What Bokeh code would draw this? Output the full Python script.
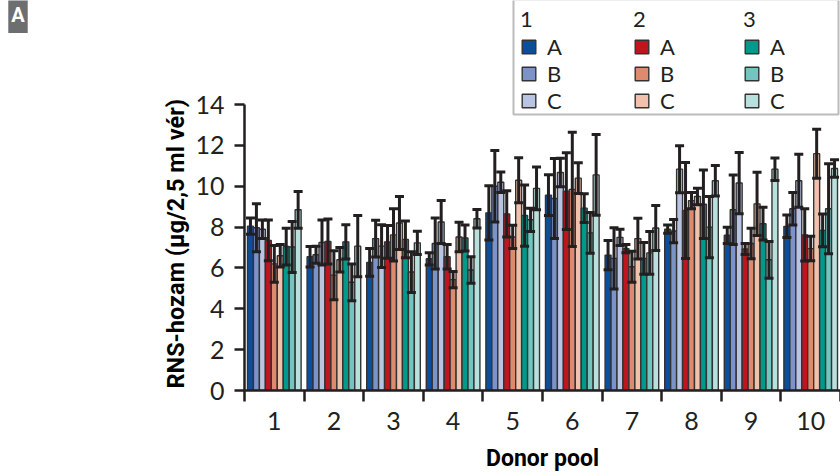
from bokeh.plotting import figure
from bokeh.layouts import row
from bokeh.models import (ColumnDataSource, Range1d, FixedTicker, Whisker, TeeHead,
                          Legend, LegendItem, BoxAnnotation, Label, Title)
from bokeh.transform import dodge
from bokeh.embed import file_html
from bokeh.resources import INLINE

# ---------------- data ----------------
pools = [1, 2, 3, 4, 5, 6, 7, 8, 9, 10]
y_ticks = [0, 2, 4, 6, 8, 10, 12, 14]

s1A = [8.05, 6.55, 6.27, 6.45, 8.70, 9.57, 6.63, 7.90, 7.60, 8.04]
s1A_err = [0.40, 0.50, 0.68, 0.30, 1.33, 1.00, 0.72, 0.20, 0.40, 0.55]
s1B = [7.97, 6.65, 7.44, 7.20, 10.00, 9.40, 6.47, 7.81, 8.85, 8.90]
s1B_err = [1.17, 0.42, 0.90, 1.25, 1.75, 1.96, 1.50, 0.57, 1.70, 0.80]
s1C = [7.90, 7.25, 7.07, 8.25, 10.20, 10.68, 7.50, 10.84, 10.16, 10.27]
s1C_err = [0.45, 1.10, 1.05, 1.05, 0.50, 0.70, 0.40, 1.15, 1.50, 1.30]

s2A = [7.35, 7.30, 7.28, 6.55, 8.65, 9.76, 6.95, 8.82, 6.93, 7.62]
s2A_err = [1.00, 1.10, 0.80, 0.60, 1.13, 1.88, 0.20, 2.35, 0.27, 1.28]
s2B = [6.20, 5.65, 7.62, 5.43, 7.52, 9.85, 6.06, 9.30, 7.20, 6.95]
s2B_err = [0.90, 1.20, 1.28, 0.40, 0.57, 2.80, 0.76, 0.40, 0.75, 0.60]
s2C = [6.60, 6.40, 8.20, 7.52, 10.30, 10.40, 7.44, 9.50, 9.14, 11.60]
s2C_err = [0.55, 0.60, 1.30, 0.72, 1.10, 0.75, 1.00, 0.40, 1.55, 1.20]

s3A = [7.05, 7.28, 7.40, 7.47, 8.57, 8.93, 6.47, 9.12, 8.17, 7.84]
s3A_err = [0.90, 0.84, 0.90, 0.64, 1.50, 0.70, 0.78, 1.68, 0.80, 0.80]
s3B = [7.03, 5.30, 5.80, 5.90, 8.36, 7.72, 6.74, 8.00, 6.40, 8.90]
s3B_err = [1.25, 0.90, 1.00, 0.65, 0.57, 1.00, 1.05, 1.50, 0.90, 2.20]
s3C = [8.85, 7.07, 7.23, 8.41, 9.90, 10.56, 7.96, 10.27, 10.84, 10.87]
s3C_err = [0.90, 1.50, 0.57, 0.45, 1.05, 1.98, 1.10, 0.75, 0.55, 0.43]

group_titles = ["1", "2", "3"]
sub_labels = ["A", "B", "C"]
y_title = "RNS-hozam (µg/2,5 ml vér)"
x_title = "Donor pool"
panel_tag = "A"

series = [
    ("1", "A", s1A, s1A_err, "#0b4f9c"),
    ("1", "B", s1B, s1B_err, "#7b93c9"),
    ("1", "C", s1C, s1C_err, "#b8c4e2"),
    ("2", "A", s2A, s2A_err, "#be151e"),
    ("2", "B", s2B, s2B_err, "#dd8a6f"),
    ("2", "C", s2C, s2C_err, "#f0c1ab"),
    ("3", "A", s3A, s3A_err, "#009a8c"),
    ("3", "B", s3B, s3B_err, "#73c5bf"),
    ("3", "C", s3C, s3C_err, "#b8e1dd"),
]

INK = "#231f20"
H = 474
TAG_W = 40
FRAME_L = 244          # frame left edge in page pixels
FRAME_B = 81           # space below the frame
Y_START, Y_AXIS_TOP, Y_END = 0, 14, 19.1   # frame reaches the top of the canvas

# ---------- small figure carrying the panel tag ----------
tag_fig = figure(width=TAG_W, height=H, x_range=Range1d(0, TAG_W), y_range=Range1d(0, H),
                 x_axis_type=None, y_axis_type=None, output_backend="svg",
                 toolbar_location=None, min_border=0)
tag_fig.outline_line_color = None
tag_fig.xgrid.visible = False
tag_fig.ygrid.visible = False
tag_fig.add_layout(Label(x=17.5, y=H - 17.5,
                         text=panel_tag, text_align="center", text_baseline="middle",
                         text_font="Roboto", text_font_style="bold", text_font_size="20px",
                         text_color="white", background_fill_color="#6d6e70",
                         padding=(3, 6)))

# ---------- main chart ----------
p = figure(width=840 - TAG_W, height=H, x_range=Range1d(0.5, 10.5),
           y_range=Range1d(Y_START, Y_END),
           output_backend="svg", toolbar_location=None,
           min_border_left=FRAME_L - TAG_W, min_border_right=0,
           min_border_top=0, min_border_bottom=FRAME_B)
p.outline_line_color = None
p.xgrid.visible = False
p.ygrid.visible = False

bar_w = 0.1
n = len(series)
renderers = {}
whiskers = []
for i, (g, s, vals, errs, col) in enumerate(series):
    off = (i - (n - 1) / 2) * bar_w
    src = ColumnDataSource(dict(
        pool=pools, val=vals,
        lo=[v - e for v, e in zip(vals, errs)],
        hi=[v + e for v, e in zip(vals, errs)],
    ))
    r = p.vbar(x=dodge("pool", off), top="val", bottom=Y_START, width=bar_w, source=src,
               fill_color=col, line_color="#333333", line_width=1.4)
    renderers[(g, s)] = r
    w = Whisker(base=dodge("pool", off), upper="hi", lower="lo", source=src,
                line_color=INK, line_width=3, level="annotation",
                upper_head=TeeHead(size=9, line_color=INK, line_width=3),
                lower_head=TeeHead(size=9, line_color=INK, line_width=3))
    whiskers.append(w)
for w in whiskers:
    p.add_layout(w)

# x axis
edges = [x - 0.5 for x in pools] + [pools[-1] + 0.5]
xa = p.xaxis[0]
xa.ticker = FixedTicker(ticks=pools, minor_ticks=edges)
xa.major_tick_line_color = None
xa.major_tick_out = 11
xa.major_tick_in = 0
xa.minor_tick_out = 11
xa.minor_tick_in = 0
xa.minor_tick_line_color = INK
xa.minor_tick_line_width = 2.5
xa.axis_line_color = INK
xa.axis_line_width = 2.5
xa.major_label_text_font = "Lato"
xa.major_label_text_font_size = "25px"
xa.major_label_text_color = INK
xa.major_label_standoff = 10
xa.axis_label = x_title
xa.axis_label_text_font = "Roboto"
xa.axis_label_text_font_style = "bold"
xa.axis_label_text_font_size = "23px"
xa.axis_label_text_color = "black"
xa.axis_label_standoff = 12

# y axis
ya = p.yaxis[0]
ya.bounds = (Y_START, Y_AXIS_TOP)
ya.ticker = FixedTicker(ticks=y_ticks)
ya.minor_tick_line_color = None
ya.major_tick_out = 10
ya.major_tick_in = 0
ya.major_tick_line_color = INK
ya.major_tick_line_width = 2.5
ya.axis_line_color = INK
ya.axis_line_width = 2.5
ya.major_label_text_font = "Lato"
ya.major_label_text_font_size = "25px"
ya.major_label_text_color = INK
ya.major_label_standoff = 10

# y title as a side-panel title, aligned with the axis span (0..14)
p.add_layout(Title(text=y_title, align="left", offset=2, standoff=6,
                   text_font="Roboto", text_font_style="bold", text_font_size="23.5px",
                   text_color="black"), "left")

# legend frame (screen units relative to the plot frame)
def fx(canvas_x):
    return canvas_x - FRAME_L

def fy(canvas_y):
    return (H - FRAME_B) - canvas_y

box = BoxAnnotation(left=fx(513), right=fx(838), top=fy(2), bottom=fy(117),
                    left_units="screen", right_units="screen",
                    top_units="screen", bottom_units="screen",
                    fill_color="white", fill_alpha=1.0,
                    line_color=INK, line_width=2, level="annotation")
p.add_layout(box)

leg_x = [520, 633, 743]
for gi, g in enumerate(group_titles):
    items = [LegendItem(label=s, renderers=[renderers[(g, s)]]) for s in sub_labels]
    leg = Legend(items=items, title=g, location=(fx(leg_x[gi]), fy(117)),
                 orientation="vertical", margin=0, padding=0, spacing=0,
                 border_line_color=None, background_fill_alpha=0,
                 glyph_width=17, glyph_height=17, label_standoff=10,
                 label_text_font="Lato", label_text_font_size="22px", label_text_color=INK,
                 title_text_font="Lato", title_text_font_size="22px",
                 title_text_font_style="normal", title_text_color=INK, title_standoff=1)
    p.add_layout(leg)

layout = row(tag_fig, p, spacing=0)
open("out.html", "w").write(file_html(layout, INLINE))
